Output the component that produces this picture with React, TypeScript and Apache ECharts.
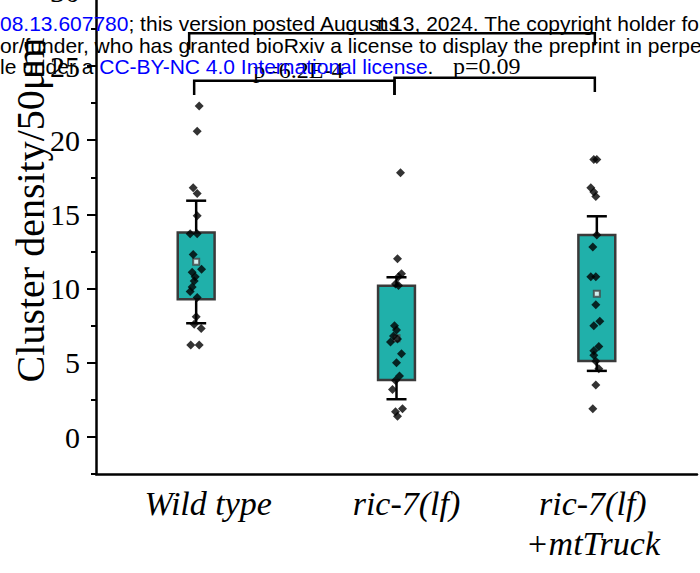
import React, { useEffect, useRef } from 'react';
import * as echarts from 'echarts';

const categories = ['Wild type', 'ric-7(lf)', 'ric-7(lf)\n+mtTruck'];

const wtValues = [22.3, 20.6, 16.8, 16.4, 14.9, 13.7, 13.7, 12.3, 11.3, 11.1, 10.8, 10.5, 10.1, 9.8, 9.4, 8.1, 7.6, 7.3, 6.2, 6.2];
const wtJitter = [0.015, 0.005, -0.015, 0.005, 0.005, -0.03, 0.005, -0.015, 0.027, -0.02, -0.005, -0.01, -0.02, -0.03, 0.005, 0, -0.01, 0.025, -0.027, 0.015];

const ricValues = [17.8, 12.0, 11.0, 10.8, 10.3, 10.2, 7.5, 7.2, 6.8, 6.6, 6.4, 5.6, 5.0, 4.1, 3.8, 3.2, 1.9, 1.7, 1.4];
const ricJitter = [0.02, 0.005, 0.025, 0.01, -0.005, 0.01, -0.01, 0, -0.015, 0.005, -0.03, 0.025, 0, 0.015, -0.005, -0.02, 0.03, -0.005, 0.005];

const mtValues = [18.7, 18.7, 16.8, 16.5, 16.2, 13.6, 12.8, 10.8, 10.8, 8.9, 7.8, 7.5, 6.1, 5.8, 5.5, 5.1, 4.6, 3.5, 1.9];
const mtJitter = [-0.015, 0, -0.03, -0.015, -0.005, 0, -0.02, -0.03, -0.005, -0.005, 0.015, -0.015, 0.01, -0.015, -0.015, -0.005, 0.01, -0.005, -0.02];

const boxQ1 = [9.28, 3.84, 5.12];
const boxQ3 = [13.77, 10.18, 13.61];
const whiskerLow = [7.66, 2.54, 4.45];
const whiskerHigh = [15.92, 10.76, 14.87];
const means = [11.8, 6.65, 9.65];

const bracketX1 = [-0.035, -0.01, 0.99];
const bracketX2 = [1.99, 0.99, 1.99];
const bracketY = [27.2, 24.0, 24.2];
const bracketLegL = [26.1, 23.05, 23.05];
const bracketLegR = [26.4, 23.05, 23.25];
const bracketLabels = ['ns', 'p=6.2E-4', 'p=0.09'];
const labelX = [0.955, 0.51, 1.45];
const labelY = [27.1, 23.9, 24.2];

const yTitle = 'Cluster density/50μm';

const SERIF = '"Liberation Serif", "Times New Roman", serif';
const SANS = '"Liberation Sans", Arial, sans-serif';

export default function App() {
  const ref = useRef<HTMLDivElement>(null);
  useEffect(() => {
    if (!ref.current) return;
    const chart = echarts.init(ref.current, null, { renderer: 'svg' });
    const groups = [
      { v: wtValues, j: wtJitter },
      { v: ricValues, j: ricJitter },
      { v: mtValues, j: mtJitter },
    ];
    const points: number[][] = [];
    groups.forEach((g, i) => g.v.forEach((v, k) => points.push([i + g.j[k], v])));

    const axisColor = '#000';
    const labelBase = { fontFamily: SERIF, fontStyle: 'italic', fontSize: 34, color: '#000', lineHeight: 40 };
    const option: any = {
      animation: false,
      grid: [
        { left: 96, right: 3, top: -45.3, bottom: 99, containLabel: false, outerBoundsMode: 'none' },
        { left: 96, right: 3, top: -82.4, bottom: 136, containLabel: false, outerBoundsMode: 'none' },
      ],
      xAxis: [
        {
          type: 'category', gridIndex: 0, data: categories,
          axisLine: { onZero: false, lineStyle: { color: axisColor, width: 2.5 } },
          axisTick: { alignWithLabel: true, length: 10, interval: 0, lineStyle: { color: axisColor, width: 2.5 } },
          axisLabel: {
            ...labelBase, margin: 9, interval: 0, hideOverlap: false,
            formatter: (v: string, i: number) =>
              v.split('\n').map((s) => `{c${i}|${s}}`).join('\n'),
            rich: {
              c0: { ...labelBase, padding: [0, 0, 0, 24] },
              c1: { ...labelBase, padding: [0, 0, 0, 20] },
              c2: { ...labelBase, padding: [0, 8, 0, 0] },
            },
          },
          splitLine: { show: false },
        },
        { type: 'value', gridIndex: 0, min: -0.5, max: 2.5, show: false },
        { type: 'value', gridIndex: 1, min: -0.5, max: 2.5, show: false },
      ],
      yAxis: [
        {
          type: 'value', gridIndex: 0, min: -2.5, max: 32.5, interval: 2.5,
          axisLine: { show: true, onZero: false, lineStyle: { color: axisColor, width: 2.5 } },
          axisTick: { show: true, length: 5, lineStyle: { color: axisColor, width: 2 } },
          axisLabel: { show: false },
          splitLine: { show: false },
        },
        {
          type: 'value', gridIndex: 1, min: 0, max: 35, interval: 5,
          axisLine: { show: false, onZero: false },
          axisTick: { show: true, length: 9, lineStyle: { color: axisColor, width: 2 } },
          axisLabel: { fontFamily: SERIF, fontSize: 30, color: '#000', margin: 16 },
          splitLine: { show: false },
        },
      ],
      series: [
        {
          type: 'custom', xAxisIndex: 0, yAxisIndex: 0, z: 2,
          data: categories.map((_, i) => [i, boxQ1[i], boxQ3[i], whiskerLow[i], whiskerHigh[i]]),
          encode: { x: 0, y: [1, 2, 3, 4] },
          renderItem: (params: any, api: any) => {
            const i = api.value(0);
            const q1 = api.coord([i, api.value(1)]);
            const q3 = api.coord([i, api.value(2)]);
            const lo = api.coord([i, api.value(3)]);
            const hi = api.coord([i, api.value(4)]);
            const band = api.size([1, 0])[0];
            const bw = band * 0.184;
            const cw = band * 0.1;
            const cx = q1[0];
            const ls = { stroke: '#000', lineWidth: 2.5 };
            return {
              type: 'group',
              children: [
                { type: 'line', shape: { x1: cx, y1: q3[1], x2: cx, y2: hi[1] }, style: ls },
                { type: 'line', shape: { x1: cx, y1: q1[1], x2: cx, y2: lo[1] }, style: ls },
                { type: 'line', shape: { x1: cx - cw / 2, y1: hi[1], x2: cx + cw / 2, y2: hi[1] }, style: ls },
                { type: 'line', shape: { x1: cx - cw / 2, y1: lo[1], x2: cx + cw / 2, y2: lo[1] }, style: ls },
                {
                  type: 'rect',
                  shape: { x: cx - bw / 2, y: q3[1], width: bw, height: q1[1] - q3[1] },
                  style: { fill: '#20B0AA', stroke: '#3a3a3a', lineWidth: 2.5 },
                },
              ],
            };
          },
        },
        {
          type: 'scatter', xAxisIndex: 0, yAxisIndex: 0, z: 3,
          data: means.map((m, i) => [i, m]),
          symbol: 'rect', symbolSize: 6,
          itemStyle: { color: '#fff', borderColor: '#444', borderWidth: 2 },
        },
        {
          type: 'scatter', xAxisIndex: 1, yAxisIndex: 0, z: 4,
          data: points,
          symbol: 'diamond', symbolSize: 9,
          itemStyle: { color: '#000' },
        },
        {
          type: 'custom', xAxisIndex: 1, yAxisIndex: 0, z: 5,
          data: bracketY.map((y, i) => [bracketX1[i], bracketX2[i], y, bracketLegL[i], bracketLegR[i], labelX[i], labelY[i]]),
          encode: { x: [0, 1], y: [2, 3, 4] },
          renderItem: (params: any, api: any) => {
            const x1 = api.value(0), x2 = api.value(1), y = api.value(2);
            const pts = [
              api.coord([x1, api.value(3)]),
              api.coord([x1, y]),
              api.coord([x2, y]),
              api.coord([x2, api.value(4)]),
            ];
            const lp = api.coord([api.value(5), api.value(6)]);
            return {
              type: 'group',
              children: [
                { type: 'polyline', shape: { points: pts }, style: { stroke: '#000', lineWidth: 2.5, fill: 'none' } },
                {
                  type: 'text', x: lp[0], y: lp[1],
                  style: {
                    text: bracketLabels[params.dataIndex], fill: '#000',
                    font: `24px ${SERIF}`, textAlign: 'center', textVerticalAlign: 'bottom',
                  },
                },
              ],
            };
          },
        },
      ],
      graphic: [
        {
          type: 'text', x: 30, y: 210, rotation: Math.PI / 2, z: 10,
          style: { text: yTitle, font: `40px ${SERIF}`, fill: '#000', textAlign: 'center', textVerticalAlign: 'middle' },
        },
        {
          type: 'text', x: 0, y: 23, z: 20,
          style: {
            text: '{b|08.13.607780}{k|; this version posted August 13, 2024. The copyright holder for this preprint}',
            font: `21px ${SANS}`, textVerticalAlign: 'middle',
            rich: { b: { fill: '#0000ff', font: `21px ${SANS}` }, k: { fill: '#000', font: `21px ${SANS}` } },
          },
        },
        {
          type: 'text', x: 0, y: 45, z: 20,
          style: {
            text: 'or/funder, who has granted bioRxiv a license to display the preprint in perpetuity. It is made',
            font: `21px ${SANS}`, fill: '#000', textVerticalAlign: 'middle',
          },
        },
        {
          type: 'text', x: 0, y: 66.5, z: 20,
          style: {
            text: '{k|le under a }{b|CC-BY-NC 4.0 International license}{k|.}',
            font: `21px ${SANS}`, textVerticalAlign: 'middle',
            rich: { b: { fill: '#0000ff', font: `21px ${SANS}` }, k: { fill: '#000', font: `21px ${SANS}` } },
          },
        },
      ],
    };
    chart.setOption(option);
    return () => chart.dispose();
  }, []);
  return (
    <div
      ref={ref}
      style={{ position: 'fixed', left: 0, top: 0, width: 700, height: 573, background: '#fff' }}
    />
  );
}
